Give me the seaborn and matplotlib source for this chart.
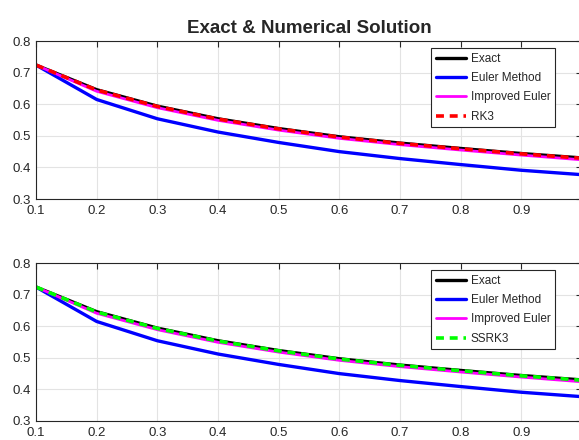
import numpy as np
import pandas as pd
import seaborn as sns
import matplotlib.pyplot as plt

t = [0.1, 0.2, 0.3, 0.4, 0.5, 0.6, 0.7, 0.8, 0.9, 1.0]
exact = [0.724, 0.646, 0.594, 0.554, 0.523, 0.497, 0.477, 0.460, 0.444, 0.430]
euler = [0.724, 0.615, 0.554, 0.512, 0.479, 0.450, 0.428, 0.409, 0.391, 0.377]
improved = [0.724, 0.641, 0.589, 0.549, 0.518, 0.492, 0.472, 0.455, 0.439, 0.424]
rk3 = [0.724, 0.645, 0.593, 0.553, 0.522, 0.496, 0.476, 0.459, 0.443, 0.429]
ssrk3 = [0.724, 0.645, 0.593, 0.553, 0.522, 0.496, 0.476, 0.459, 0.443, 0.429]

xticks = [0.1, 0.2, 0.3, 0.4, 0.5, 0.6, 0.7, 0.8, 0.9, 1.0]
yticks = [0.3, 0.4, 0.5, 0.6, 0.7, 0.8]

sns.set_style('whitegrid')
plt.rcParams['font.family'] = ['Liberation Sans', 'DejaVu Sans']

fig = plt.figure(figsize=(5.79, 4.40), dpi=100)
ax1 = fig.add_axes([0.0622, 0.5477, 0.943, 0.359])
ax2 = fig.add_axes([0.0622, 0.0432, 0.943, 0.359])


def draw(ax, third_name, third_vals, third_color):
    df = pd.DataFrame({'t': t, 'Exact': exact, 'Euler Method': euler,
                       'Improved Euler': improved, third_name: third_vals})
    sns.lineplot(data=df, x='t', y='Exact', ax=ax, color='black', lw=2.4, label='Exact')
    sns.lineplot(data=df, x='t', y='Euler Method', ax=ax, color='#0000ff', lw=2.4, label='Euler Method')
    sns.lineplot(data=df, x='t', y='Improved Euler', ax=ax, color='#ff00ff', lw=2.0, label='Improved Euler')
    sns.lineplot(data=df, x='t', y=third_name, ax=ax, color=third_color, lw=2.6,
                 label=third_name, linestyle=(0, (2.2, 1.6)))
    ax.set_xlim(0.1, 1.0)
    ax.set_ylim(0.3, 0.8)
    ax.set_xticks(xticks)
    ax.set_yticks(yticks)
    ax.set_xticklabels([f'{v:g}' for v in xticks])
    ax.set_yticklabels([f'{v:g}' for v in yticks])
    ax.set_xlabel('')
    ax.set_ylabel('')
    ax.grid(True, color='#e3e3e3', lw=0.8)
    ax.tick_params(direction='in', length=4, width=0.8, colors='#262626',
                   labelsize=9.5, top=True, right=True, pad=4)
    for s in ax.spines.values():
        s.set_color('#262626')
        s.set_linewidth(0.8)
    leg = ax.legend(loc='upper right', bbox_to_anchor=(0.9505, 0.956), borderaxespad=0,
                    fontsize=8.5, frameon=True, fancybox=False, edgecolor='#262626',
                    handlelength=2.6, handletextpad=0.35, labelspacing=0.62,
                    borderpad=0.4)
    leg.get_frame().set_linewidth(0.8)
    leg.get_frame().set_alpha(1)


draw(ax1, 'RK3', rk3, '#ff0000')
draw(ax2, 'SSRK3', ssrk3, '#00ff00')
ax1.set_title('Exact & Numerical Solution', fontsize=13.5, fontweight='bold', pad=6)

fig.savefig('out.png', dpi=100)
